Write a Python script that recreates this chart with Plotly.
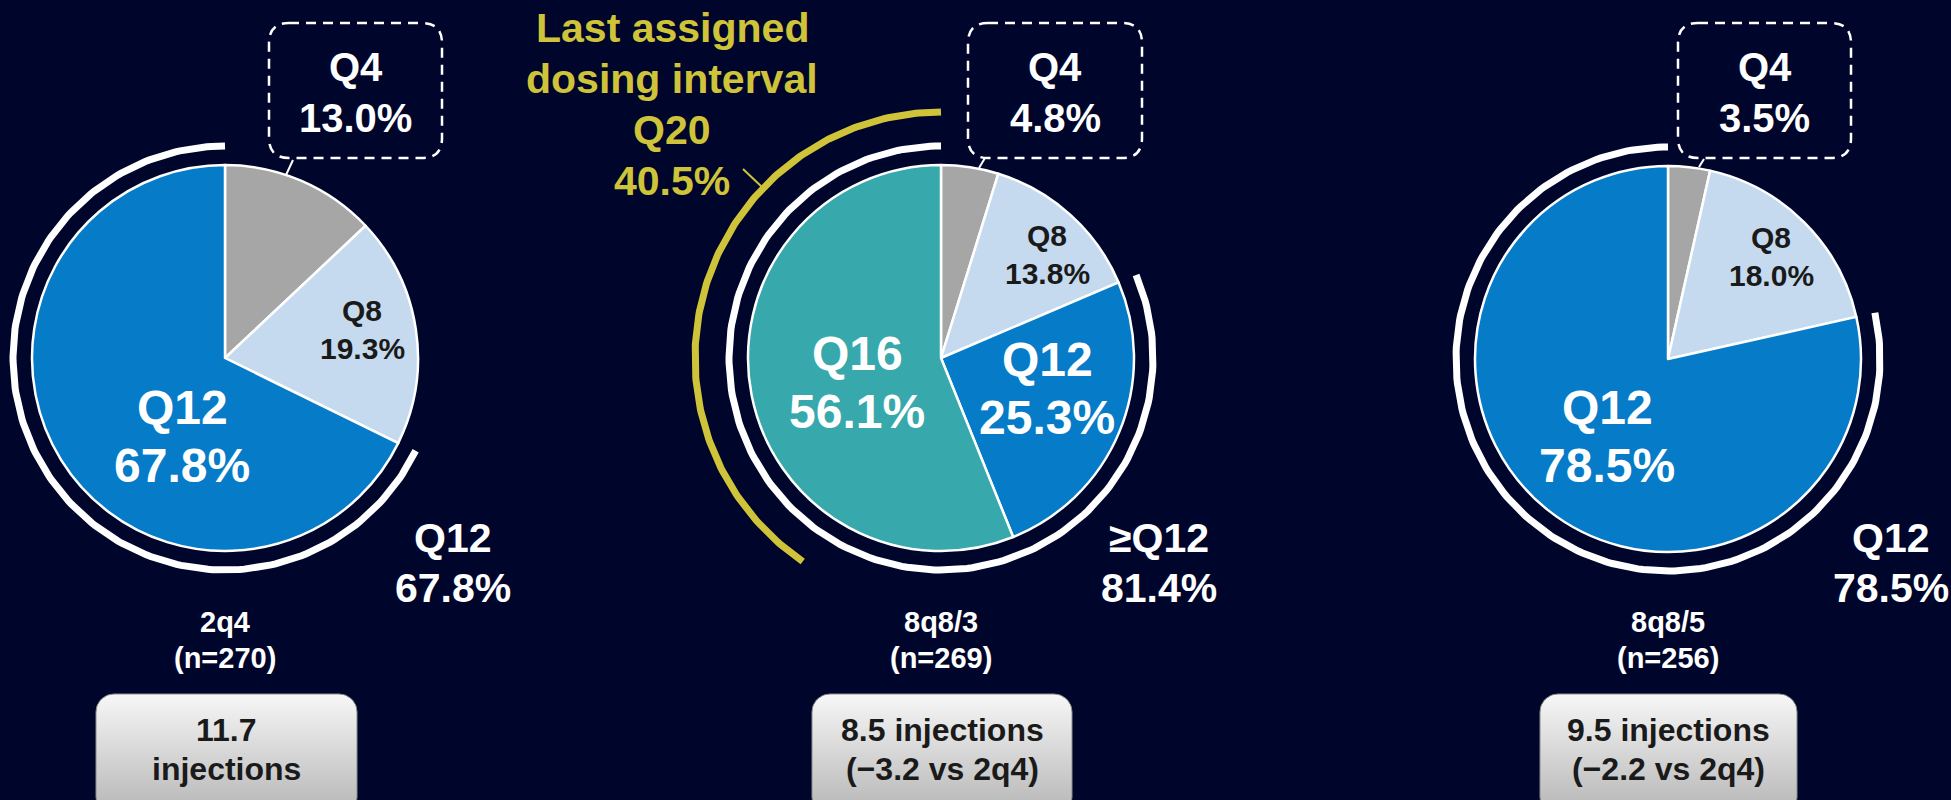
import numpy as np
import plotly.graph_objects as go

# ---- data ----
arms = ['2q4', '8q8/3', '8q8/5']
n_patients = [270, 269, 256]
injections = [11.7, 8.5, 9.5]
diff_vs_2q4 = [None, -3.2, -2.2]

intervals_2q4 = ['Q4', 'Q8', 'Q12']
share_2q4 = [13.0, 19.3, 67.8]
intervals_8q8_3 = ['Q4', 'Q8', 'Q12', 'Q16']
share_8q8_3 = [4.8, 13.8, 25.3, 56.1]
intervals_8q8_5 = ['Q4', 'Q8', 'Q12']
share_8q8_5 = [3.5, 18.0, 78.5]

bracket_labels = ['Q12', '≥Q12', 'Q12']
bracket_share = [67.8, 81.4, 78.5]
last_q20_share = 40.5

# ---- layout (pixel coordinates of the 1951x800 canvas) ----
W, H = 1951, 800
BG = '#00062B'
YELLOW = '#CFC33A'
DARK = '#1A1A1A'
FONT = 'Arial, "Liberation Sans", sans-serif'
colors = {'Q4': '#A6A6A6', 'Q8': '#C6DAEF', 'Q12': '#067BC8', 'Q16': '#37A8AB'}

centers = [(225, 358), (941, 358), (1668, 359)]
R_PIE = 193
R_BRACKET = 212
R_YELLOW = 246

inside_pos = [
    {'Q8': (362, 329), 'Q12': (182, 436)},
    {'Q8': (1047, 254), 'Q12': (1047, 388), 'Q16': (857, 382)},
    {'Q8': (1771, 256), 'Q12': (1607, 436)},
]
q4_box_x = [(269, 442), (968, 1142), (1678, 1851)]
q4_leader = [((293, 160), (286, 175)), ((985, 158), (979, 168)), ((1704, 159), (1699, 167))]
outer_pos = [(453, 563), (1159, 563), (1891, 563)]
bottom_box_x = [(96, 357), (812, 1072), (1540, 1797)]

panels = [
    (intervals_2q4, share_2q4),
    (intervals_8q8_3, share_8q8_3),
    (intervals_8q8_5, share_8q8_5),
]


def rounded_path(x0, y0, x1, y1, r):
    return (f"M{x0 + r},{y0} L{x1 - r},{y0} Q{x1},{y0} {x1},{y0 + r} "
            f"L{x1},{y1 - r} Q{x1},{y1} {x1 - r},{y1} L{x0 + r},{y1} "
            f"Q{x0},{y1} {x0},{y1 - r} L{x0},{y0 + r} Q{x0},{y0} {x0 + r},{y0} Z")


def rounded_points(x0, y0, x1, y1, r, n=12):
    xs, ys = [], []
    corners = [(x1 - r, y0 + r, -90, 0), (x1 - r, y1 - r, 0, 90),
               (x0 + r, y1 - r, 90, 180), (x0 + r, y0 + r, 180, 270)]
    for cx, cy, a0, a1 in corners:
        a = np.radians(np.linspace(a0, a1, n))
        xs.extend(cx + r * np.cos(a))
        ys.extend(cy + r * np.sin(a))
    xs.append(xs[0])
    ys.append(ys[0])
    return xs, ys


def arc_points(cx, cy, r, p0, p1, n=200):
    # percent of the circle, clockwise from 12 o'clock
    t = np.radians(np.linspace(p0, p1, n) * 3.6)
    return cx + r * np.sin(t), cy - r * np.cos(t)


fig = go.Figure()
shapes = []
annotations = []


def txt(x, y, lines, size, spacing, color='white'):
    # one annotation per line so the line spacing can be set freely
    n = len(lines)
    for k, line in enumerate(lines):
        annotations.append(dict(
            x=x, y=y + (k - (n - 1) / 2) * spacing, xref='x', yref='y',
            text=f"<b>{line}</b>", showarrow=False,
            xanchor='center', yanchor='middle', align='center',
            font=dict(family=FONT, size=size, color=color)))


for i, (labels, values) in enumerate(panels):
    cx, cy = centers[i]
    fig.add_trace(go.Pie(
        labels=labels, values=values, sort=False, direction='clockwise',
        rotation=0, textinfo='none', showlegend=False,
        marker=dict(colors=[colors[l] for l in labels], line=dict(color='white', width=2.5)),
        domain=dict(x=[(cx - R_PIE) / W, (cx + R_PIE) / W],
                    y=[1 - (cy + R_PIE) / H, 1 - (cy - R_PIE) / H]),
    ))

    # white bracket arc over the Q12+ slices
    ax, ay = arc_points(cx, cy, R_BRACKET, 100 - bracket_share[i], 100)
    fig.add_trace(go.Scatter(x=ax, y=ay, mode='lines', hoverinfo='skip', showlegend=False,
                             line=dict(color='white', width=7)))

    # labels inside slices
    for lab, val in zip(labels, values):
        if lab in inside_pos[i]:
            x, y = inside_pos[i][lab]
            if lab == 'Q8':
                txt(x, y, [lab, f"{val:.1f}%"], 30, 38, DARK)
            else:
                txt(x, y, [lab, f"{val:.1f}%"], 48, 58)

    # Q4 callout box
    bx0, bx1 = q4_box_x[i]
    shapes.append(dict(type='path', xref='x', yref='y', path=rounded_path(bx0, 23, bx1, 158, 20),
                       line=dict(color='white', width=2.5, dash='10px,7px')))
    (lx0, ly0), (lx1, ly1) = q4_leader[i]
    shapes.append(dict(type='line', xref='x', yref='y', x0=lx0, y0=ly0, x1=lx1, y1=ly1,
                       line=dict(color='white', width=2)))
    txt((bx0 + bx1) / 2, 92, [labels[0], f"{values[0]:.1f}%"], 40, 51)

    # bracket label
    ox, oy = outer_pos[i]
    txt(ox, oy, [bracket_labels[i], f"{bracket_share[i]:.1f}%"], 41, 50)

    # arm name
    txt(cx, 640, [arms[i], f"(n={n_patients[i]})"], 29, 36)

    # injections box
    gx0, gx1 = bottom_box_x[i]
    px, py = rounded_points(gx0, 694, gx1, 815, 18)
    fig.add_trace(go.Scatter(
        x=px, y=py, mode='lines', fill='toself', hoverinfo='skip', showlegend=False,
        line=dict(color='#8C8C8C', width=1),
        fillgradient=dict(type='vertical', start=694, stop=800,
                          colorscale=[[0, '#F7F7F7'], [1, '#BDBDBD']])))
    if diff_vs_2q4[i] is None:
        box_lines = [f"{injections[i]:.1f}", "injections"]
    else:
        box_lines = [f"{injections[i]:.1f} injections",
                     f"(\u2212{abs(diff_vs_2q4[i]):.1f} vs {arms[0]})"]
    txt((gx0 + gx1) / 2, 749, box_lines, 32, 39, DARK)

# yellow arc: last assigned dosing interval Q20 in 8q8/3
cx, cy = centers[1]
ax, ay = arc_points(cx, cy, R_YELLOW, 100 - last_q20_share, 100)
fig.add_trace(go.Scatter(x=ax, y=ay, mode='lines', hoverinfo='skip', showlegend=False,
                         line=dict(color=YELLOW, width=7)))
shapes.append(dict(type='line', xref='x', yref='y', x0=743, y0=169, x1=762, y1=187,
                   line=dict(color=YELLOW, width=2)))
txt(672, 104, ["Last assigned", "dosing interval", "Q20", f"{last_q20_share:.1f}%"], 41, 51, YELLOW)

fig.update_layout(
    width=W, height=H,
    margin=dict(l=0, r=0, t=0, b=0),
    paper_bgcolor=BG, plot_bgcolor=BG,
    xaxis=dict(range=[0, W], visible=False, fixedrange=True),
    yaxis=dict(range=[H, 0], visible=False, fixedrange=True),
    shapes=shapes,
    annotations=annotations,
    showlegend=False,
)

fig.write_html("out.html", config={'displayModeBar': False},
               post_script="document.body.style.margin='0';")
